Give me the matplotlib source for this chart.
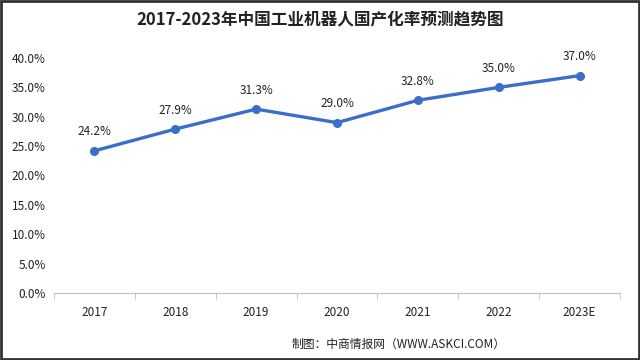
import matplotlib.pyplot as plt
from matplotlib.patches import Rectangle
import numpy as np

plt.rcParams['font.family'] = ['Noto Sans CJK SC', 'DejaVu Sans']

# data
years = ['2017', '2018', '2019', '2020', '2021', '2022', '2023E']
rate = [24.2, 27.9, 31.3, 29.0, 32.8, 35.0, 37.0]
yticks = [0, 5, 10, 15, 20, 25, 30, 35, 40]

title = '2017-2023年中国工业机器人国产化率预测趋势图'
source = '制图：中商情报网（WWW.ASKCI.COM）'

fig = plt.figure(figsize=(6.4, 3.6), dpi=100)
ax = fig.add_axes([54 / 640, 1 - 293 / 360, 566 / 640, 235 / 360])

x = np.arange(len(years))
ax.plot(x, rate, color='#3b6ec6', lw=2.4, marker='o', ms=5.5, zorder=3)
for xi, v in zip(x, rate):
    ax.annotate(f'{v:.1f}%', (xi, v), xytext=(0, 9), textcoords='offset points',
                ha='center', va='bottom', fontsize=8.5, color='#222222')

ax.set_xlim(-0.5, len(years) - 0.5)
ax.set_ylim(0, 40)
ax.set_yticks(yticks)
ax.set_yticklabels([f'{t:.1f}%' for t in yticks], fontsize=8.5, color='#222222')
ax.set_xticks(x)
ax.set_xticklabels(years, fontsize=8.5, color='#222222')
ax.set_xticks(np.arange(len(years) + 1) - 0.5, minor=True)
ax.tick_params(axis='x', which='major', length=0, pad=9)
ax.tick_params(axis='x', which='minor', length=4, color='#bfbfbf')
ax.tick_params(axis='y', length=0, pad=6)

for s in ['left', 'top', 'right']:
    ax.spines[s].set_visible(False)
ax.spines['bottom'].set_color('#bfbfbf')

fig.text(0.5, 1 - 19 / 360, title, ha='center', va='center',
         fontsize=12, fontweight='bold', color='#222222')
fig.text(0.79, 1 - 344 / 360, source, ha='right', va='center',
         fontsize=8.5, color='#222222')

# frame around the picture
fig.patches.append(Rectangle((0.002, 0.003), 0.996, 0.994, transform=fig.transFigure,
                             fill=False, edgecolor='#333333', lw=2))

fig.savefig('out.png', dpi=100)
